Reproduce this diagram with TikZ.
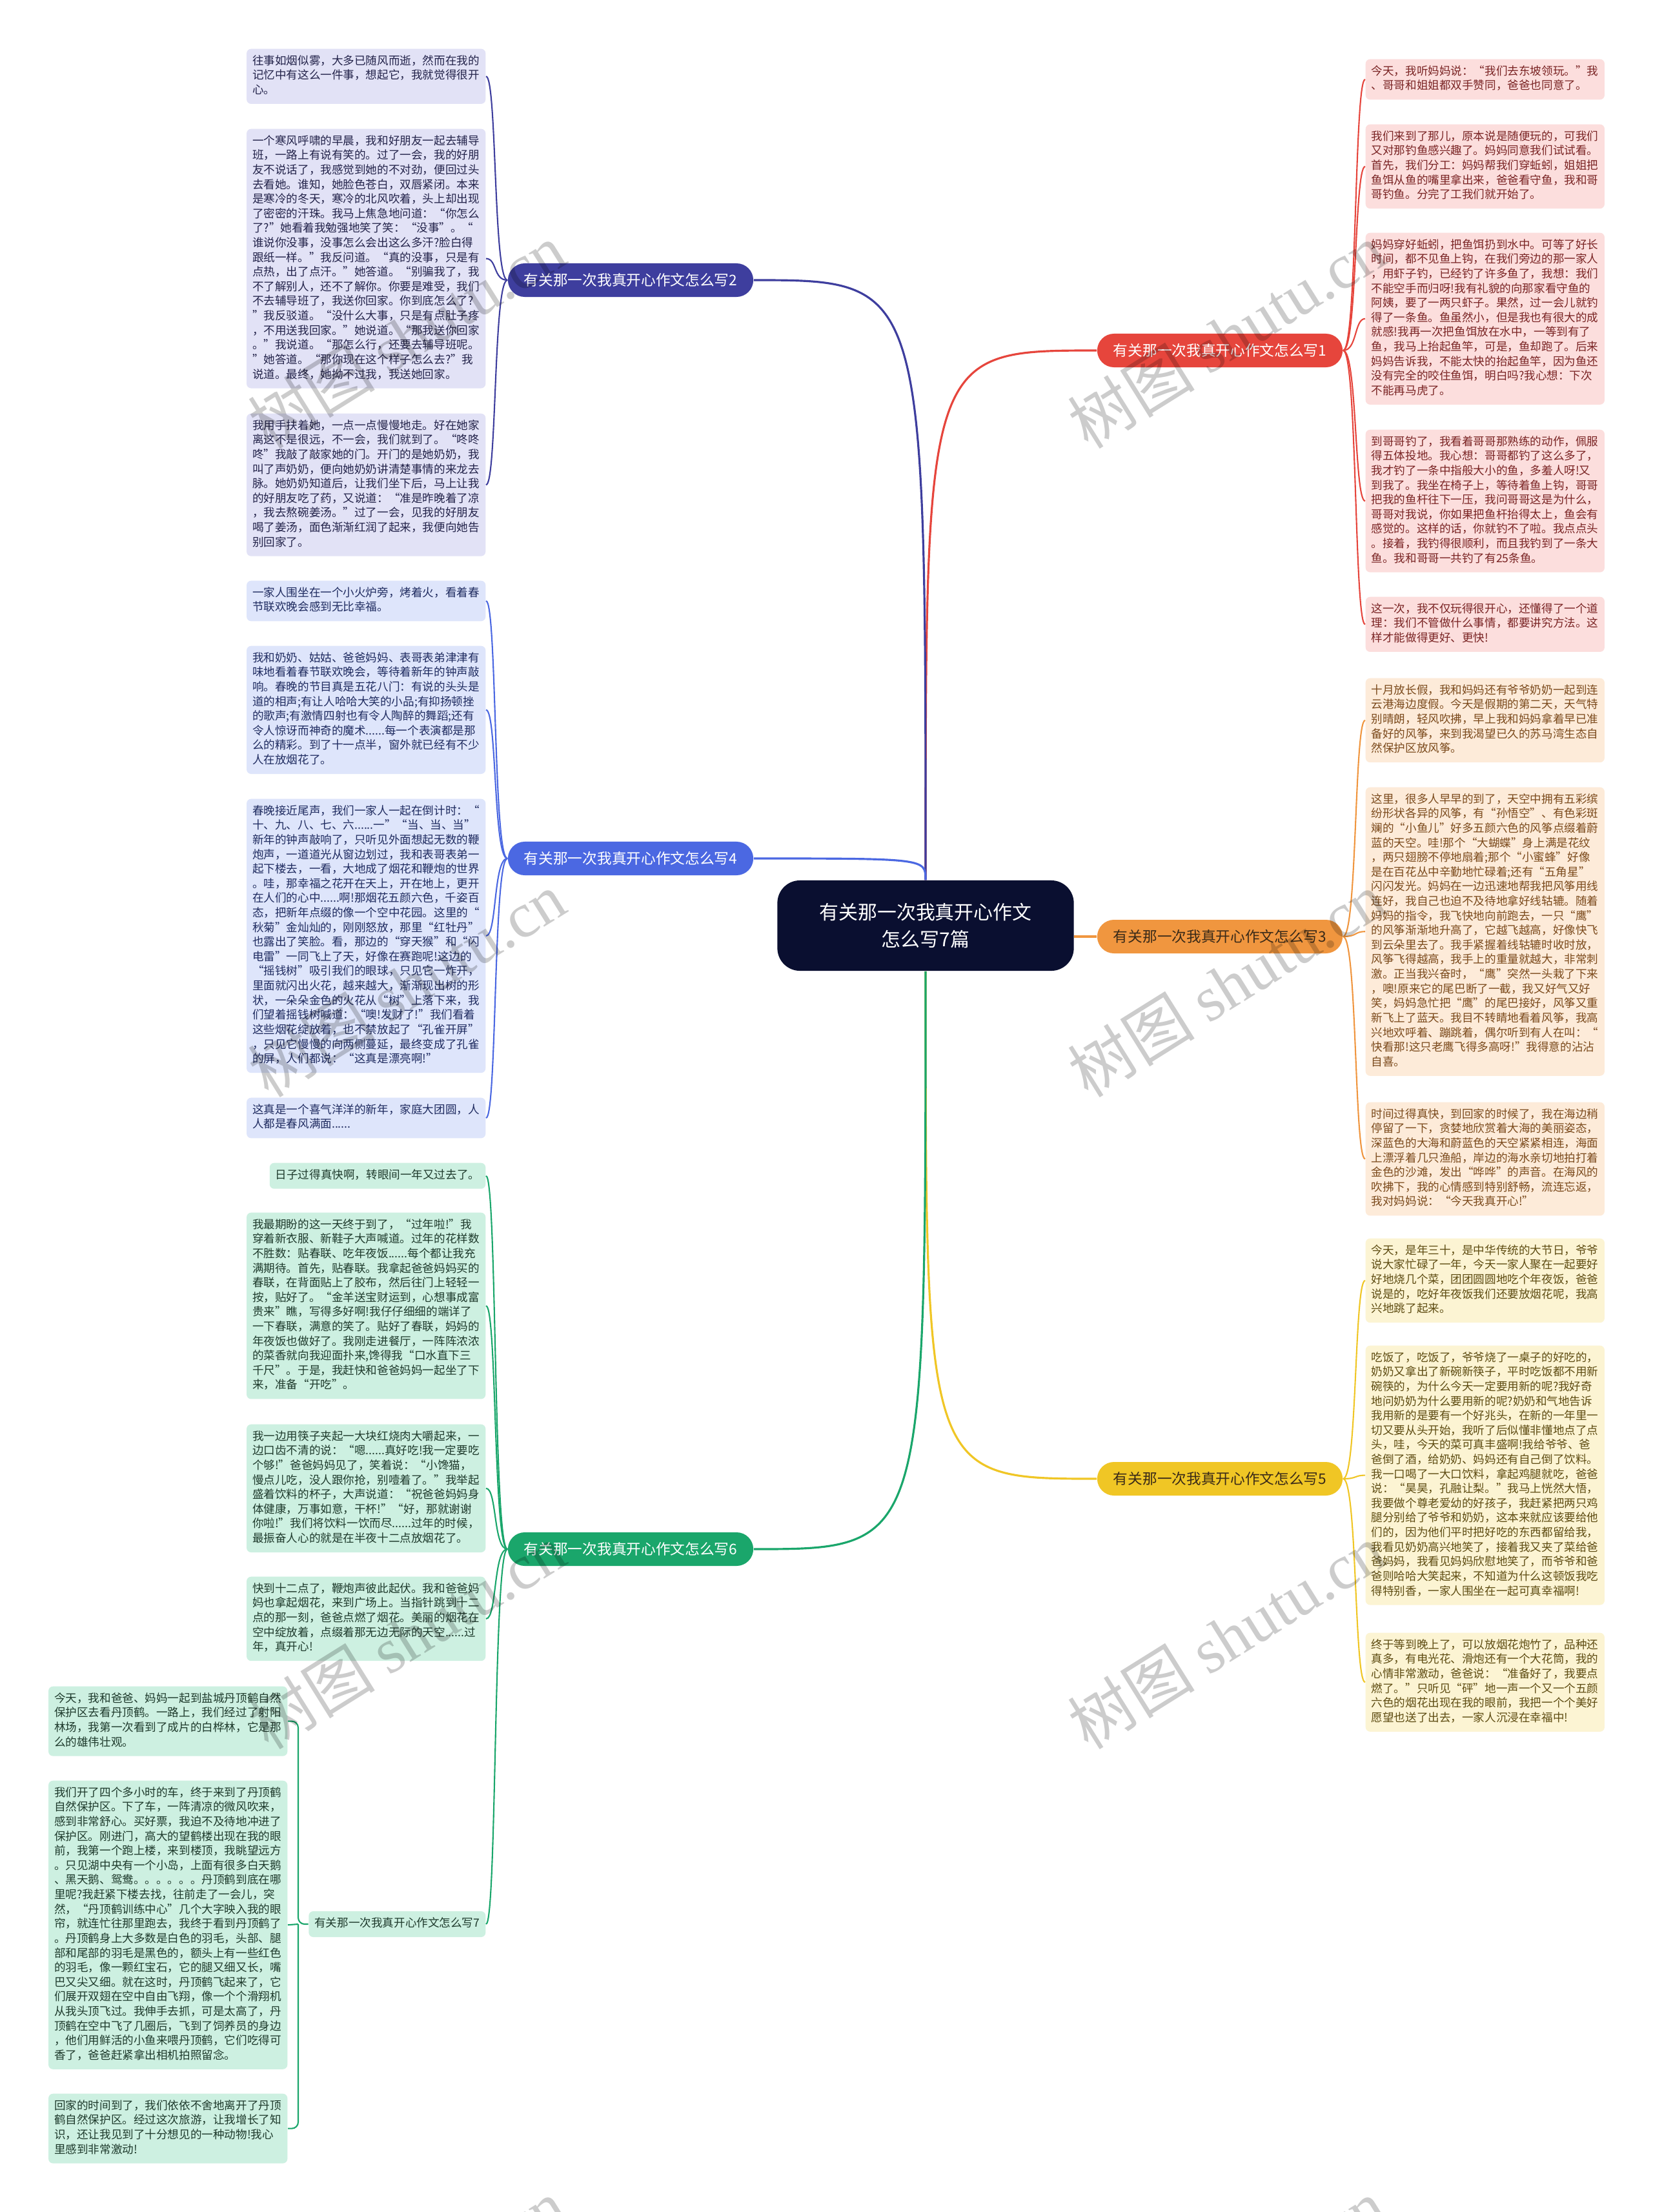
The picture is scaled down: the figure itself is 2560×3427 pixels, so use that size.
\documentclass[tikz,border=0pt]{standalone}
\usepackage{fontspec}
\setmainfont{Noto Sans CJK SC}
\newfontfamily\wmlatin{Liberation Serif}
\usepackage{tikz}
\usetikzlibrary{positioning}

\definecolor{rootfill}{HTML}{0A0F30}
\definecolor{redline}{HTML}{E6453C}
\definecolor{redbox}{HTML}{FCDEDD}
\definecolor{redtext}{HTML}{7A2424}
\definecolor{purpleline}{HTML}{3E3E9E}
\definecolor{purplebox}{HTML}{E2E2F6}
\definecolor{purpletext}{HTML}{23234A}
\definecolor{orangeline}{HTML}{F0963F}
\definecolor{orangebox}{HTML}{FDEBD9}
\definecolor{orangetext}{HTML}{7B4A1C}
\definecolor{blueline}{HTML}{4B68E2}
\definecolor{bluebox}{HTML}{DEE5FB}
\definecolor{bluetext}{HTML}{1F2B60}
\definecolor{yellowline}{HTML}{F0C625}
\definecolor{yellowbox}{HTML}{FCF4D3}
\definecolor{yellowtext}{HTML}{5E4C12}
\definecolor{greenline}{HTML}{1AA66B}
\definecolor{greenbox}{HTML}{CDF0E1}
\definecolor{greentext}{HTML}{1E3A2C}
\definecolor{darktopic}{HTML}{3A2A18}

\newcommand\leaffont{\fontsize{5pt}{6.43pt}\selectfont}
\newcommand\topicfont{\fontsize{6.45pt}{7.5pt}\selectfont}
\newcommand\rootfont{\fontsize{8.5pt}{11.8pt}\selectfont}
\newcommand\wmfont{\fontsize{28pt}{30pt}\selectfont}

\begin{document}
\begin{tikzpicture}[x=0.01cm,y=-0.01cm,
  topic/.style={rounded corners=0.26cm,minimum width=3.8cm,minimum height=0.52cm,inner sep=0pt,text=white,font=\topicfont},
  leaf/.style={rounded corners=0.07cm,inner xsep=0.09cm,inner ysep=0.087cm,font=\leaffont,execute at begin node=\strut,execute at end node=\strut},
  para/.style={leaf,text width=3.52cm,align=left},
  link/.style={line width=0.6pt},
  trunk/.style={line width=0.9pt},
  stamp/.style={rotate=32,text=black,text opacity=0.2,font=\wmfont}]
\path[use as bounding box,fill=white] (0,0) rectangle (2560,3427);

\node[rounded corners=0.35cm,fill=rootfill,text=white,minimum width=4.59cm,minimum height=1.4cm,align=center,font=\rootfont] (root) at (1434,1434) {有关那一次我真开心作文\\怎么写7篇};

\node[topic,fill=redline] (b1) at (1890,543) {有关那一次我真开心作文怎么写1};
\node[topic,fill=purpleline] (b2) at (977,434) {有关那一次我真开心作文怎么写2};
\node[topic,fill=orangeline,text=darktopic] (b3) at (1890,1451) {有关那一次我真开心作文怎么写3};
\node[topic,fill=blueline] (b4) at (977,1330) {有关那一次我真开心作文怎么写4};
\node[topic,fill=yellowline,text=darktopic] (b5) at (1890,2291) {有关那一次我真开心作文怎么写5};
\node[topic,fill=greenline] (b6) at (977,2400) {有关那一次我真开心作文怎么写6};

\draw[trunk,redline] (root.north) .. controls (root.north |- b1.west) .. (b1.west);
\draw[trunk,purpleline] (root.north) .. controls (root.north |- b2.east) .. (b2.east);
\draw[trunk,orangeline] (b3.west -| root.east) -- (b3.west);
\draw[trunk,blueline] (root.north) .. controls (root.north |- b4.east) .. (b4.east);
\draw[trunk,yellowline] (root.south) .. controls (root.south |- b5.west) .. (b5.west);
\draw[trunk,greenline] (root.south) .. controls (root.south |- b6.east) .. (b6.east);

\node[para,fill=purplebox,text=purpletext,anchor=north east] (b2a) at (753,75) {往事如烟似雾，大多已随风而逝，然而在我的\\记忆中有这么一件事，想起它，我就觉得很开\\心。};
\node[para,fill=purplebox,text=purpletext,anchor=north east] (b2b) at (753,199) {一个寒风呼啸的早晨，我和好朋友一起去辅导\\班，一路上有说有笑的。过了一会，我的好朋\\友不说话了，我感觉到她的不对劲，便回过头\\去看她。谁知，她脸色苍白，双唇紧闭。本来\\是寒冷的冬天，寒冷的北风吹着，头上却出现\\了密密的汗珠。我马上焦急地问道：“你怎么\\了?”她看着我勉强地笑了笑：“没事”。“\\谁说你没事，没事怎么会出这么多汗?脸白得\\跟纸一样。”我反问道。“真的没事，只是有\\点热，出了点汗。”她答道。“别骗我了，我\\不了解别人，还不了解你。你要是难受，我们\\不去辅导班了，我送你回家。你到底怎么了?\\”我反驳道。“没什么大事，只是有点肚子疼\\，不用送我回家。”她说道。“那我送你回家\\。”我说道。“那怎么行，还要去辅导班呢。\\”她答道。“那你现在这个样子怎么去?”我\\说道。最终，她拗不过我，我送她回家。};
\node[para,fill=purplebox,text=purpletext,anchor=north east] (b2c) at (753,640) {我用手扶着她，一点一点慢慢地走。好在她家\\离这不是很远，不一会，我们就到了。“咚咚\\咚”我敲了敲家她的门。开门的是她奶奶，我\\叫了声奶奶，便向她奶奶讲清楚事情的来龙去\\脉。她奶奶知道后，让我们坐下后，马上让我\\的好朋友吃了药，又说道：“准是昨晚着了凉\\，我去熬碗姜汤。”过了一会，见我的好朋友\\喝了姜汤，面色渐渐红润了起来，我便向她告\\别回家了。};

\node[para,fill=bluebox,text=bluetext,anchor=north east] (b4a) at (753,899) {一家人围坐在一个小火炉旁，烤着火，看着春\\节联欢晚会感到无比幸福。};
\node[para,fill=bluebox,text=bluetext,anchor=north east] (b4b) at (753,1000) {我和奶奶、姑姑、爸爸妈妈、表哥表弟津津有\\味地看着春节联欢晚会，等待着新年的钟声敲\\响。春晚的节目真是五花八门：有说的头头是\\道的相声;有让人哈哈大笑的小品;有抑扬顿挫\\的歌声;有激情四射也有令人陶醉的舞蹈;还有\\令人惊讶而神奇的魔术......每一个表演都是那\\么的精彩。到了十一点半，窗外就已经有不少\\人在放烟花了。};
\node[para,fill=bluebox,text=bluetext,anchor=north east] (b4c) at (753,1237) {春晚接近尾声，我们一家人一起在倒计时：“\\十、九、八、七、六......一”“当、当、当”\\新年的钟声敲响了，只听见外面想起无数的鞭\\炮声，一道道光从窗边划过，我和表哥表弟一\\起下楼去，一看，大地成了烟花和鞭炮的世界\\。哇，那幸福之花开在天上，开在地上，更开\\在人们的心中......啊!那烟花五颜六色，千姿百\\态，把新年点缀的像一个空中花园。这里的“\\秋菊”金灿灿的，刚刚怒放，那里“红牡丹”\\也露出了笑脸。看，那边的“穿天猴”和“闪\\电雷”一同飞上了天，好像在赛跑呢!这边的\\“摇钱树”吸引我们的眼球，只见它一炸开，\\里面就闪出火花，越来越大，渐渐现出树的形\\状，一朵朵金色的火花从“树”上落下来，我\\们望着摇钱树喊道：“噢!发财了!”我们看着\\这些烟花绽放着，也不禁放起了“孔雀开屏”\\，只见它慢慢的向两侧蔓延，最终变成了孔雀\\的屏，人们都说：“这真是漂亮啊!”};
\node[para,fill=bluebox,text=bluetext,anchor=north east] (b4d) at (753,1700) {这真是一个喜气洋洋的新年，家庭大团圆，人\\人都是春风满面......};

\node[leaf,fill=greenbox,text=greentext,anchor=north east] (b6a) at (753,1801) {日子过得真快啊，转眼间一年又过去了。};
\node[para,fill=greenbox,text=greentext,anchor=north east] (b6b) at (753,1878) {我最期盼的这一天终于到了，“过年啦!”我\\穿着新衣服、新鞋子大声喊道。过年的花样数\\不胜数：贴春联、吃年夜饭......每个都让我充\\满期待。首先，贴春联。我拿起爸爸妈妈买的\\春联，在背面贴上了胶布，然后往门上轻轻一\\按，贴好了。“金羊送宝财运到，心想事成富\\贵来”瞧，写得多好啊!我仔仔细细的端详了\\一下春联，满意的笑了。贴好了春联，妈妈的\\年夜饭也做好了。我刚走进餐厅，一阵阵浓浓\\的菜香就向我迎面扑来,馋得我“口水直下三\\千尺”。于是，我赶快和爸爸妈妈一起坐了下\\来，准备“开吃”。};
\node[para,fill=greenbox,text=greentext,anchor=north east] (b6c) at (753,2206) {我一边用筷子夹起一大块红烧肉大嚼起来，一\\边口齿不清的说：“嗯......真好吃!我一定要吃\\个够!”爸爸妈妈见了，笑着说：“小馋猫，\\慢点儿吃，没人跟你抢，别噎着了。”我举起\\盛着饮料的杯子，大声说道：“祝爸爸妈妈身\\体健康，万事如意，干杯!”“好，那就谢谢\\你啦!”我们将饮料一饮而尽......过年的时候，\\最振奋人心的就是在半夜十二点放烟花了。};
\node[para,fill=greenbox,text=greentext,anchor=north east] (b6d) at (753,2442) {快到十二点了，鞭炮声彼此起伏。我和爸爸妈\\妈也拿起烟花，来到广场上。当指针跳到十二\\点的那一刻，爸爸点燃了烟花。美丽的烟花在\\空中绽放着，点缀着那无边无际的天空......过\\年，真开心!};
\node[leaf,fill=greenbox,text=greentext,anchor=east] (b7) at (753,2981) {有关那一次我真开心作文怎么写7};

\node[para,fill=greenbox,text=greentext,anchor=north east] (b7a) at (446,2612) {今天，我和爸爸、妈妈一起到盐城丹顶鹤自然\\保护区去看丹顶鹤。一路上，我们经过了射阳\\林场，我第一次看到了成片的白桦林，它是那\\么的雄伟壮观。};
\node[para,fill=greenbox,text=greentext,anchor=north east] (b7b) at (446,2758) {我们开了四个多小时的车，终于来到了丹顶鹤\\自然保护区。下了车，一阵清凉的微风吹来，\\感到非常舒心。买好票，我迫不及待地冲进了\\保护区。刚进门，高大的望鹤楼出现在我的眼\\前，我第一个跑上楼，来到楼顶，我眺望远方\\。只见湖中央有一个小岛，上面有很多白天鹅\\、黑天鹅、鸳鸯。。。。。。丹顶鹤到底在哪\\里呢?我赶紧下楼去找，往前走了一会儿，突\\然，“丹顶鹤训练中心”几个大字映入我的眼\\帘，就连忙往那里跑去，我终于看到丹顶鹤了\\。丹顶鹤身上大多数是白色的羽毛，头部、腿\\部和尾部的羽毛是黑色的，额头上有一些红色\\的羽毛，像一颗红宝石，它的腿又细又长，嘴\\巴又尖又细。就在这时，丹顶鹤飞起来了，它\\们展开双翅在空中自由飞翔，像一个个滑翔机\\从我头顶飞过。我伸手去抓，可是太高了，丹\\顶鹤在空中飞了几圈后，飞到了饲养员的身边\\，他们用鲜活的小鱼来喂丹顶鹤，它们吃得可\\香了，爸爸赶紧拿出相机拍照留念。};
\node[para,fill=greenbox,text=greentext,anchor=north east] (b7c) at (446,3243) {回家的时间到了，我们依依不舍地离开了丹顶\\鹤自然保护区。经过这次旅游，让我增长了知\\识，还让我见到了十分想见的一种动物!我心\\里感到非常激动!};

\node[para,fill=redbox,text=redtext,anchor=north west] (b1a) at (2115,91) {今天，我听妈妈说：“我们去东坡领玩。”我\\、哥哥和姐姐都双手赞同，爸爸也同意了。};
\node[para,fill=redbox,text=redtext,anchor=north west] (b1b) at (2115,192) {我们来到了那儿，原本说是随便玩的，可我们\\又对那钓鱼感兴趣了。妈妈同意我们试试看。\\首先，我们分工：妈妈帮我们穿蚯蚓，姐姐把\\鱼饵从鱼的嘴里拿出来，爸爸看守鱼，我和哥\\哥钓鱼。分完了工我们就开始了。};
\node[para,fill=redbox,text=redtext,anchor=north west] (b1c) at (2115,360) {妈妈穿好蚯蚓，把鱼饵扔到水中。可等了好长\\时间，都不见鱼上钩，在我们旁边的那一家人\\，用虾子钓，已经钓了许多鱼了，我想：我们\\不能空手而归呀!我有礼貌的向那家看守鱼的\\阿姨，要了一两只虾子。果然，过一会儿就钓\\得了一条鱼。鱼虽然小，但是我也有很大的成\\就感!我再一次把鱼饵放在水中，一等到有了\\鱼，我马上抬起鱼竿，可是，鱼却跑了。后来\\妈妈告诉我，不能太快的抬起鱼竿，因为鱼还\\没有完全的咬住鱼饵，明白吗?我心想：下次\\不能再马虎了。};
\node[para,fill=redbox,text=redtext,anchor=north west] (b1d) at (2115,665) {到哥哥钓了，我看着哥哥那熟练的动作，佩服\\得五体投地。我心想：哥哥都钓了这么多了，\\我才钓了一条中指般大小的鱼，多羞人呀!又\\到我了。我坐在椅子上，等待着鱼上钩，哥哥\\把我的鱼杆往下一压，我问哥哥这是为什么，\\哥哥对我说，你如果把鱼杆抬得太上，鱼会有\\感觉的。这样的话，你就钓不了啦。我点点头\\。接着，我钓得很顺利，而且我钓到了一条大\\鱼。我和哥哥一共钓了有25条鱼。};
\node[para,fill=redbox,text=redtext,anchor=north west] (b1e) at (2115,924) {这一次，我不仅玩得很开心，还懂得了一个道\\理：我们不管做什么事情，都要讲究方法。这\\样才能做得更好、更快!};

\node[para,fill=orangebox,text=orangetext,anchor=north west] (b3a) at (2115,1050) {十月放长假，我和妈妈还有爷爷奶奶一起到连\\云港海边度假。今天是假期的第二天，天气特\\别晴朗，轻风吹拂，早上我和妈妈拿着早已准\\备好的风筝，来到我渴望已久的苏马湾生态自\\然保护区放风筝。};
\node[para,fill=orangebox,text=orangetext,anchor=north west] (b3b) at (2115,1219) {这里，很多人早早的到了，天空中拥有五彩缤\\纷形状各异的风筝，有“孙悟空”、有色彩斑\\斓的“小鱼儿”好多五颜六色的风筝点缀着蔚\\蓝的天空。哇!那个“大蝴蝶”身上满是花纹\\，两只翅膀不停地扇着;那个“小蜜蜂”好像\\是在百花丛中辛勤地忙碌着;还有“五角星”\\闪闪发光。妈妈在一边迅速地帮我把风筝用线\\连好，我自己也迫不及待地拿好线轱辘。随着\\妈妈的指令，我飞快地向前跑去，一只“鹰”\\的风筝渐渐地升高了，它越飞越高，好像快飞\\到云朵里去了。我手紧握着线轱辘时收时放，\\风筝飞得越高，我手上的重量就越大，非常刺\\激。正当我兴奋时，“鹰”突然一头栽了下来\\，噢!原来它的尾巴断了一截，我又好气又好\\笑，妈妈急忙把“鹰”的尾巴接好，风筝又重\\新飞上了蓝天。我目不转睛地看着风筝，我高\\兴地欢呼着、蹦跳着，偶尔听到有人在叫：“\\快看那!这只老鹰飞得多高呀!”我得意的沾沾\\自喜。};
\node[para,fill=orangebox,text=orangetext,anchor=north west] (b3c) at (2115,1707) {时间过得真快，到回家的时候了，我在海边稍\\停留了一下，贪婪地欣赏着大海的美丽姿态，\\深蓝色的大海和蔚蓝色的天空紧紧相连，海面\\上漂浮着几只渔船，岸边的海水亲切地拍打着\\金色的沙滩，发出“哗哗”的声音。在海风的\\吹拂下，我的心情感到特别舒畅，流连忘返，\\我对妈妈说：“今天我真开心!”};

\node[para,fill=yellowbox,text=yellowtext,anchor=north west] (b5a) at (2115,1918) {今天，是年三十，是中华传统的大节日，爷爷\\说大家忙碌了一年，今天一家人聚在一起要好\\好地烧几个菜，团团圆圆地吃个年夜饭，爸爸\\说是的，吃好年夜饭我们还要放烟花呢，我高\\兴地跳了起来。};
\node[para,fill=yellowbox,text=yellowtext,anchor=north west] (b5b) at (2115,2084) {吃饭了，吃饭了，爷爷烧了一桌子的好吃的，\\奶奶又拿出了新碗新筷子，平时吃饭都不用新\\碗筷的，为什么今天一定要用新的呢?我好奇\\地问奶奶为什么要用新的呢?奶奶和气地告诉\\我用新的是要有一个好兆头，在新的一年里一\\切又要从头开始，我听了后似懂非懂地点了点\\头，哇，今天的菜可真丰盛啊!我给爷爷、爸\\爸倒了酒，给奶奶、妈妈还有自己倒了饮料。\\我一口喝了一大口饮料，拿起鸡腿就吃，爸爸\\说：“昊昊，孔融让梨。”我马上恍然大悟，\\我要做个尊老爱幼的好孩子，我赶紧把两只鸡\\腿分别给了爷爷和奶奶，这本来就应该要给他\\们的，因为他们平时把好吃的东西都留给我，\\我看见奶奶高兴地笑了，接着我又夹了菜给爸\\爸妈妈，我看见妈妈欣慰地笑了，而爷爷和爸\\爸则哈哈大笑起来，不知道为什么这顿饭我吃\\得特别香，一家人围坐在一起可真幸福啊!};
\node[para,fill=yellowbox,text=yellowtext,anchor=north west] (b5c) at (2115,2529) {终于等到晚上了，可以放烟花炮竹了，品种还\\真多，有电光花、滑炮还有一个大花筒，我的\\心情非常激动，爸爸说：“准备好了，我要点\\燃了。”只听见“砰”地一声一个又一个五颜\\六色的烟花出现在我的眼前，我把一个个美好\\愿望也送了出去，一家人沉浸在幸福中!};

\draw[link,purpleline] (b2.west) .. controls +(-22,0) and +(17,0) .. (b2a.east);
\draw[link,purpleline] (b2.west) .. controls +(-22,0) and +(17,0) .. (b2b.east);
\draw[link,purpleline] (b2.west) .. controls +(-22,0) and +(17,0) .. (b2c.east);
\draw[link,blueline] (b4.west) .. controls +(-22,0) and +(17,0) .. (b4a.east);
\draw[link,blueline] (b4.west) .. controls +(-22,0) and +(17,0) .. (b4b.east);
\draw[link,blueline] (b4.west) .. controls +(-22,0) and +(17,0) .. (b4c.east);
\draw[link,blueline] (b4.west) .. controls +(-22,0) and +(17,0) .. (b4d.east);
\draw[link,greenline] (b6.west) .. controls +(-22,0) and +(17,0) .. (b6a.east);
\draw[link,greenline] (b6.west) .. controls +(-22,0) and +(17,0) .. (b6b.east);
\draw[link,greenline] (b6.west) .. controls +(-22,0) and +(17,0) .. (b6c.east);
\draw[link,greenline] (b6.west) .. controls +(-22,0) and +(17,0) .. (b6d.east);
\draw[link,greenline] (b6.west) .. controls +(-22,0) and +(17,0) .. (b7.east);
\coordinate (j7) at (462,2981);
\draw[link,greenline,rounded corners=0.1cm] (b7.west) -- (j7) |- (b7a.east);
\draw[link,greenline,rounded corners=0.1cm] (j7) |- (b7c.east);
\draw[link,greenline] (j7) -- (b7b.east);
\draw[link,redline] (b1.east) .. controls +(22,0) and +(-17,0) .. (b1a.west);
\draw[link,redline] (b1.east) .. controls +(22,0) and +(-17,0) .. (b1b.west);
\draw[link,redline] (b1.east) .. controls +(22,0) and +(-17,0) .. (b1c.west);
\draw[link,redline] (b1.east) .. controls +(22,0) and +(-17,0) .. (b1d.west);
\draw[link,redline] (b1.east) .. controls +(22,0) and +(-17,0) .. (b1e.west);
\draw[link,orangeline] (b3.east) .. controls +(22,0) and +(-17,0) .. (b3a.west);
\draw[link,orangeline] (b3.east) .. controls +(22,0) and +(-17,0) .. (b3b.west);
\draw[link,orangeline] (b3.east) .. controls +(22,0) and +(-17,0) .. (b3c.west);
\draw[link,yellowline] (b5.east) .. controls +(22,0) and +(-17,0) .. (b5a.west);
\draw[link,yellowline] (b5.east) .. controls +(22,0) and +(-17,0) .. (b5b.west);
\draw[link,yellowline] (b5.east) .. controls +(22,0) and +(-17,0) .. (b5c.west);

\node[stamp] (wm1) at (630,520) {树图 {\wmlatin shutu.cn}};
\node[stamp] (wm2) at (1900,520) {树图 {\wmlatin shutu.cn}};
\node[stamp] (wm3) at (630,1525) {树图 {\wmlatin shutu.cn}};
\node[stamp] (wm4) at (1900,1525) {树图 {\wmlatin shutu.cn}};
\node[stamp] (wm5) at (630,2535) {树图 {\wmlatin shutu.cn}};
\node[stamp] (wm6) at (1900,2535) {树图 {\wmlatin shutu.cn}};
\node[stamp] (wm7) at (630,3550) {树图 {\wmlatin shutu.cn}};
\node[stamp] (wm8) at (1900,3550) {树图 {\wmlatin shutu.cn}};
\end{tikzpicture}
\end{document}
